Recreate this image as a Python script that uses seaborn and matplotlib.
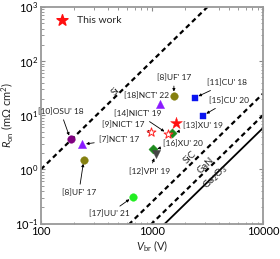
import numpy as np
import pandas as pd
import matplotlib
matplotlib.use("Agg")
import matplotlib.pyplot as plt
import seaborn as sns

# -------------------------
# data
# -------------------------
labels = ["[10]OSU' 18", "[7]NCT' 17", "[8]UF' 17", "[17]UU' 21", "[8]UF' 17 ",
          "[11]CU' 18", "[15]CU' 20", "[18]NCT' 22", "[13]XU' 19", "[14]NICT' 19",
          "[9]NICT' 17", "[16]XU' 20", "[12]VPI' 19", "This work"]
vbr = [185, 234, 244, 674, 1578, 2427, 2866, 1188, 1524, 1393, 986, 1028, 1080, 1633]
ron = [3.57, 2.89, 1.52, 0.31, 23.0, 20.9, 9.8, 16.4, 4.73, 4.54, 4.85, 2.34, 1.9, 7.08]
group = ["osu", "nct", "uf", "uu", "uf", "cu", "cu", "nct", "xu", "nict",
         "nict", "xu", "vpi", "this"]

# material limit lines (Ron vs Vbr), values at V = 100, 1000, 10000
lim_v = [100, 1000, 10000]
lim_si = [1.0, 100, 10000]
lim_sic = [0.0025, 0.25, 25]
lim_gan = [0.001, 0.1, 10]
lim_ga2o3 = [0.00058, 0.058, 5.8]

df = pd.DataFrame({"label": labels, "vbr": vbr, "ron": ron, "group": group})

styles = {
    "osu": dict(marker="o", color="#800080", s=30),
    "nct": dict(marker="^", color="#8a1aff", s=35),
    "uf": dict(marker="o", color="#858010", s=30),
    "uu": dict(marker="o", color="#22ee22", s=30),
    "cu": dict(marker="s", color="#0a14f0", s=25),
    "xu": dict(marker="D", color="#1c8a1c", s=22),
    "nict": dict(marker="*", color="white", edgecolor="#ff2020", s=45, linewidth=0.7),
    "vpi": dict(marker="v", color="#444444", s=35),
    "this": dict(marker="*", color="#ff1010", s=80),
}

# text offsets in pixels (dx, dy), alignment, leader line or not
ann = {
    "[10]OSU' 18": (-10, 28, "center", True),
    "[7]NCT' 17": (17, 5, "left", True),
    "[8]UF' 17": (-5, -33, "center", True),
    "[17]UU' 21": (-24, -17, "center", True),
    "[8]UF' 17 ": (0, 18, "center", True),
    "[11]CU' 18": (12, 15, "left", True),
    "[15]CU' 20": (6, 15, "left", True),
    "[18]NCT' 22": (-14, 8, "center", False),
    "[13]XU' 19": (11, 7, "left", True),
    "[14]NICT' 19": (-30, 20, "center", True),
    "[9]NICT' 17": (-28, 8, "center", True),
    "[16]XU' 20": (10, 6, "left", True),
    "[12]VPI' 19": (-6, -17, "center", True),
}

sns.set_theme(style="ticks")
plt.rcParams["font.family"] = ["Lato", "DejaVu Sans"]
plt.rcParams["mathtext.fontset"] = "custom"
plt.rcParams["mathtext.rm"] = "Lato"
plt.rcParams["mathtext.it"] = "Lato:italic"

fig = plt.figure(figsize=(2.8, 2.59), dpi=100)
ax = fig.add_axes([0.146, 0.137, 0.793, 0.836])

# -------------------------
# limit lines
# -------------------------
dash = (0, (2.2, 1.6))
for vals in [lim_si, lim_sic, lim_gan]:
    sns.lineplot(x=lim_v, y=vals, ax=ax, color="black", lw=1.6, linestyle=dash)
sns.lineplot(x=lim_v, y=lim_ga2o3, ax=ax, color="black", lw=1.3)

# -------------------------
# data points
# -------------------------
for g, st in styles.items():
    sub = df[df["group"] == g]
    st = dict(st)
    ec = st.pop("edgecolor", st["color"])
    lw = st.pop("linewidth", 0.3)
    sns.scatterplot(data=sub, x="vbr", y="ron", ax=ax, edgecolor=ec,
                    linewidth=lw, zorder=5, legend=False, **st)

for _, r in df.iterrows():
    if r["label"] not in ann:
        continue
    dx, dy, ha, lead = ann[r["label"]]
    ax.annotate(r["label"].strip(), xy=(r["vbr"], r["ron"]), xytext=(dx, dy),
                textcoords="offset pixels", ha=ha, va="center", fontsize=6,
                color="#222222",
                arrowprops=dict(arrowstyle="-|>", color="black", lw=0.6,
                                mutation_scale=4, shrinkA=1, shrinkB=3) if lead else None)

# legend
ax.scatter([], [], marker="*", color="#ff1010", s=70, label="This work")
ax.legend(loc="upper left", bbox_to_anchor=(0.02, 0.99), frameon=False,
          fontsize=7.5, handletextpad=0.4, borderaxespad=0.2)

# line labels (pixel positions from top-left of the figure)
rot = 44
for txt, (px, py) in [("Si", (116, 92)), ("SiC", (190, 157)), ("GaN", (206, 165)),
                      ("Ga$_2$O$_3$", (215, 177))]:
    ax.text(px / 280, 1 - py / 259, txt, transform=fig.transFigure, fontsize=7,
            rotation=rot, ha="center", va="center", color="#222222")

ax.set_xscale("log")
ax.set_yscale("log")
ax.set_xlim(100, 10000)
ax.set_ylim(0.1, 1000)
ax.set_xticks([100, 1000, 10000])
ax.set_xticklabels(["100", "1000", "10000"])
ax.tick_params(which="both", direction="in", top=True, right=True,
               colors="#888888", labelcolor="black", labelsize=8, pad=2)
ax.tick_params(which="major", length=3, width=0.8)
ax.tick_params(which="minor", length=1.8, width=0.6)
for sp in ax.spines.values():
    sp.set_color("#999999")
    sp.set_linewidth(1.3)

ax.set_xlabel(r"$V_{\rm br}$ (V)", fontsize=8, labelpad=1)
ax.set_ylabel(r"$R_{\rm on}$ (mΩ cm$^2$)", fontsize=8, labelpad=0)

fig.savefig("out.png", dpi=100)
plt.close()
